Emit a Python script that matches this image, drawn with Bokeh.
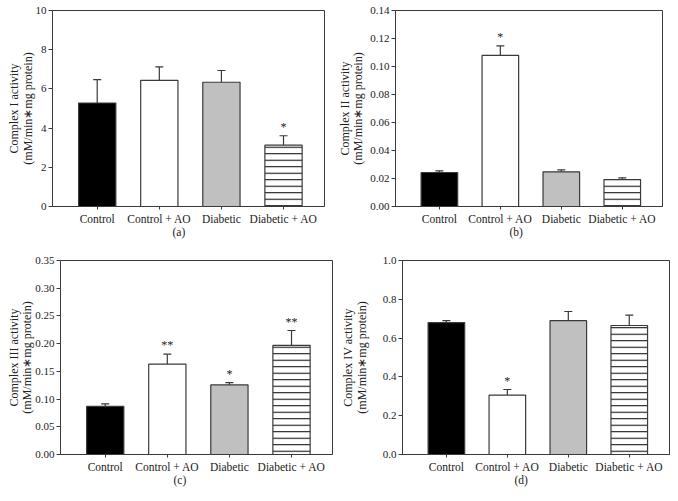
from bokeh.plotting import figure
from bokeh.layouts import column, row
from bokeh.models import (Range1d, FixedTicker, PrintfTickFormatter, Whisker, TeeHead,
                          ColumnDataSource, Title)
from bokeh.core.properties import value
from bokeh.embed import file_html
from bokeh.resources import INLINE

# ---------------- data ----------------
categories = ["Control", "Control + AO", "Diabetic", "Diabetic + AO"]

c1_mean = [5.28, 6.44, 6.34, 3.13]
c1_err = [1.19, 0.68, 0.60, 0.48]
c1_sig = ["", "", "", "*"]
c1_ticks = [0, 2, 4, 6, 8, 10]

c2_mean = [0.0243, 0.1079, 0.0248, 0.0193]
c2_err = [0.0012, 0.0068, 0.0013, 0.0012]
c2_sig = ["", "*", "", ""]
c2_ticks = [0.0, 0.02, 0.04, 0.06, 0.08, 0.10, 0.12, 0.14]

c3_mean = [0.0867, 0.163, 0.1256, 0.197]
c3_err = [0.0048, 0.018, 0.0042, 0.0267]
c3_sig = ["", "**", "*", "**"]
c3_ticks = [0.0, 0.05, 0.10, 0.15, 0.20, 0.25, 0.30, 0.35]

c4_mean = [0.680, 0.306, 0.690, 0.665]
c4_err = [0.010, 0.029, 0.047, 0.053]
c4_sig = ["", "*", "", ""]
c4_ticks = [0.0, 0.2, 0.4, 0.6, 0.8, 1.0]

FONT = "Liberation Serif"
FILL = ["black", "white", "#c0c0c0", "white"]
HATCH = ["", "", "", "horizontal_line"]
LINE = "#3a3a3a"


def panel(mean, err, sig, ticks, fmt, ylabel, tag, tag_offset,
          ml, mr, mt, mb, fw, fh, sig_off, lab_standoff):
    x = list(range(len(categories)))
    p = figure(output_backend="svg", toolbar_location=None,
               width=ml + fw + mr, height=mt + fh + mb,
               x_range=Range1d(-0.72, 3.66), y_range=Range1d(0, ticks[-1]),
               min_border_left=ml, min_border_right=mr,
               min_border_top=mt, min_border_bottom=mb)
    p.xgrid.visible = False
    p.ygrid.visible = False
    p.outline_line_color = LINE
    p.outline_line_width = 1
    p.background_fill_color = "white"
    p.border_fill_color = "white"

    src = ColumnDataSource(dict(x=x, top=mean, fill=FILL, hatch=HATCH,
                                up=[m + e for m, e in zip(mean, err)],
                                sig=sig))
    p.vbar(x="x", top="top", bottom=0, width=0.6, source=src,
           fill_color="fill", line_color=LINE, line_width=1.2,
           hatch_pattern="hatch", hatch_color="black", hatch_scale=6.5,
           hatch_weight=1)
    wh = Whisker(base="x", lower="top", upper="up", source=src,
                 line_color=LINE, line_width=1.2,
                 upper_head=TeeHead(size=8, line_color=LINE, line_width=1.2),
                 lower_head=None)
    p.add_layout(wh)
    p.text(x="x", y="up", text="sig", source=src, text_align="center",
           text_baseline="middle", y_offset=sig_off, text_font=value(FONT),
           text_font_size="12px", text_color="#222222")

    # y axis
    ya = p.yaxis[0]
    ya.ticker = FixedTicker(ticks=ticks)
    ya.formatter = PrintfTickFormatter(format=fmt)
    ya.major_tick_out = 4
    ya.major_tick_in = 0
    ya.minor_tick_line_color = None
    ya.major_label_standoff = 2
    ya.axis_label = ylabel
    ya.axis_label_standoff = lab_standoff
    ya.axis_label_text_font = FONT
    ya.axis_label_text_font_size = "12px"
    ya.axis_label_text_font_style = "normal"
    ya.axis_label_text_line_height = 0.95
    ya.axis_label_text_color = "#222"
    ya.major_label_text_font = FONT
    ya.major_label_text_font_size = "11px"
    ya.major_label_text_color = "#222"
    ya.axis_line_color = LINE
    ya.major_tick_line_color = LINE

    # x axis
    xa = p.xaxis[0]
    xa.ticker = FixedTicker(ticks=x)
    xa.major_label_overrides = {i: c for i, c in zip(x, categories)}
    xa.major_tick_out = 3
    xa.major_tick_in = 0
    xa.minor_tick_line_color = None
    xa.major_label_standoff = 3
    xa.major_label_text_font = FONT
    xa.major_label_text_font_size = "11.5px"
    xa.major_label_text_color = "#222"
    xa.axis_line_color = LINE
    xa.major_tick_line_color = LINE

    p.add_layout(Title(text=tag, align="left", offset=tag_offset,
                       text_font=FONT, text_font_size="11.5px",
                       text_font_style="normal", text_color="#222",
                       standoff=-8), "below")
    return p


pa = panel(c1_mean, c1_err, c1_sig, c1_ticks, "%d",
           "Complex I activity\n(mM/min\u2217mg protein)", "(a)", 120,
           ml=52, mr=10, mt=10, mb=46, fw=272, fh=196, sig_off=-9,
           lab_standoff=-2)
pb = panel(c2_mean, c2_err, c2_sig, c2_ticks, "%.2f",
           "Complex II activity\n(mM/min\u2217mg protein)", "(b)", 114,
           ml=58, mr=5, mt=10, mb=46, fw=270, fh=196, sig_off=-9,
           lab_standoff=2)
pc = panel(c3_mean, c3_err, c3_sig, c3_ticks, "%.2f",
           "Complex III activity\n(mM/min\u2217mg protein)", "(c)", 113,
           ml=60, mr=6, mt=7, mb=38, fw=272, fh=195, sig_off=-9,
           lab_standoff=-2)
pd = panel(c4_mean, c4_err, c4_sig, c4_ticks, "%.1f",
           "Complex IV activity\n(mM/min\u2217mg protein)", "(d)", 112,
           ml=58, mr=1, mt=8, mb=37, fw=273, fh=195, sig_off=-9,
           lab_standoff=11)

layout = column(row(pa, pb), row(pc, pd))

open("out.html", "w").write(file_html(layout, INLINE))
